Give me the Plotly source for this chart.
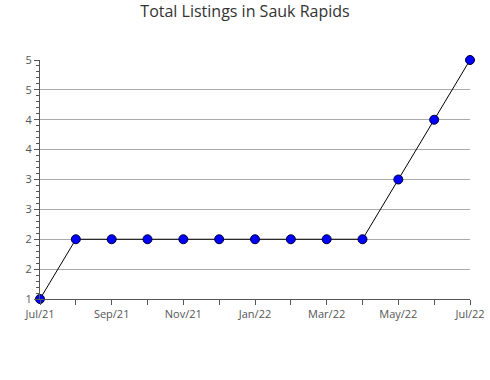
import plotly.graph_objects as go

months = ["Jul/21", "Aug/21", "Sep/21", "Oct/21", "Nov/21", "Dec/21", "Jan/22",
          "Feb/22", "Mar/22", "Apr/22", "May/22", "Jun/22", "Jul/22"]
listings = [1, 2, 2, 2, 2, 2, 2, 2, 2, 2, 3, 4, 5]
y_ticks = [1, 1.5, 2, 2.5, 3, 3.5, 4, 4.5, 5]
y_labels = ["1", "2", "2", "3", "3", "4", "4", "5", "5"]

x_idx = list(range(len(months)))
x_text = [m if i % 2 == 0 else "" for i, m in enumerate(months)]

fig = go.Figure()
fig.add_trace(go.Scatter(
    x=x_idx, y=listings, mode="lines+markers",
    line=dict(color="black", width=1),
    marker=dict(color="#0000ff", size=9, line=dict(color="#000033", width=1)),
    cliponaxis=False, showlegend=False,
))

fig.update_layout(
    width=490, height=380,
    margin=dict(l=40, r=20, t=60, b=81),
    paper_bgcolor="white", plot_bgcolor="white",
    font=dict(family="Open Sans", size=11, color="#555"),
    title=dict(text="Total Listings in Sauk Rapids", x=0.5, xanchor="center",
               y=0.985, yanchor="top",
               font=dict(family="Open Sans", size=16, color="#333")),
)
fig.update_xaxes(
    range=[0, 12], tickvals=x_idx, ticktext=x_text, automargin=False,
    ticks="outside", ticklen=5, tickcolor="#555",
    showline=True, linecolor="#555", linewidth=1,
    showgrid=False, zeroline=False,
)
fig.update_yaxes(
    range=[1, 5], tickvals=y_ticks, ticktext=y_labels, automargin=False,
    ticks="outside", ticklen=5, tickcolor="#555",
    showline=True, linecolor="#555", linewidth=1,
    showgrid=True, gridcolor="#aaa", gridwidth=1, zeroline=False,
    minor=dict(dtick=0.1, tick0=1, ticks="outside", ticklen=3, tickcolor="#555", showgrid=False),
)

fig.write_html("out.html")
